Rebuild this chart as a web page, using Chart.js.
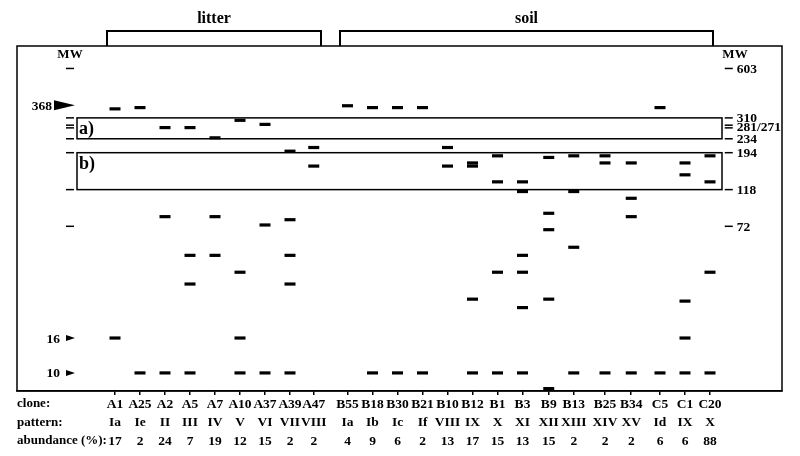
<!DOCTYPE html>
<html>
<head>
<meta charset="utf-8">
<script src="https://cdn.jsdelivr.net/npm/chart.js@4.4.1/dist/chart.umd.min.js"></script>
<style>
  html, body { margin: 0; padding: 0; background: #fff; }
  canvas { display: block; }
</style>
</head>
<body>
<canvas id="gel" width="800" height="456"></canvas>
<script>
// clones along the gel, in lane order
const clones = ['A1', 'A25', 'A2', 'A5', 'A7', 'A10', 'A37', 'A39', 'A47',
  'B55', 'B18', 'B30', 'B21', 'B10', 'B12', 'B1', 'B3', 'B9', 'B13', 'B25', 'B34', 'C5', 'C1', 'C20'];
const patterns = ['Ia', 'Ie', 'II', 'III', 'IV', 'V', 'VI', 'VII', 'VIII',
  'Ia', 'Ib', 'Ic', 'If', 'VIII', 'IX', 'X', 'XI', 'XII', 'XIII', 'XIV', 'XV', 'Id', 'IX', 'X'];
const abundance = [17, 2, 24, 7, 19, 12, 15, 2, 2, 4, 9, 6, 2, 13, 17, 15, 13, 15, 2, 2, 2, 6, 6, 88];
// lane number of each clone (lanes are not evenly spaced on the gel)
const lanes = [0, 1, 2, 3, 4, 5, 6, 7, 7.95, 9.3, 10.3, 11.3, 12.3, 13.3, 14.3, 15.3, 16.3,
  17.35, 18.35, 19.6, 20.65, 21.8, 22.8, 23.8];
// band sizes (MW)
const bands = [
  [350, 16],
  [356, 10],
  [272, 82, 10],
  [272, 48.7, 33.1, 10],
  [237, 82, 48.7],
  [300, 38.8, 16, 10],
  [284, 73.3, 10],
  [198, 78.7, 48.7, 33.1, 10],
  [208, 162],
  [365],
  [356, 10],
  [356, 10],
  [356, 10],
  [208, 162],
  [169, 162, 27, 10],
  [186, 131, 38.8, 10],
  [131, 115, 48.7, 38.8, 24.1, 10],
  [182, 85.8, 68.8, 27, 8.1],
  [186, 115, 54.3, 10],
  [186, 169, 10],
  [169, 105, 82, 10],
  [356, 10],
  [169, 144, 26.3, 16, 10],
  [186, 131, 38.8, 10]
];
// size marker ladder
const ladderMW = [603, 310, 281, 271, 234, 194, 118, 72];
const ladderTicks = [603, 310, 276, 234, 194, 118, 72];
const ladderLabels = ['603', '310', '281/271', '234', '194', '118', '72'];
const arrowMW = [368, 16, 10];
const arrowLabels = ['368', '16', '10'];
const boxA = [310, 234];
const boxB = [194, 118];

const FONT = '"Liberation Serif", "Times New Roman", serif';

const bandPoints = [];
bands.forEach((list, i) => list.forEach(mw => bandPoints.push({ x: lanes[i], y: mw })));
const ladderPoints = [];
ladderMW.forEach(mw => {
  ladderPoints.push({ x: -1.8, y: mw });
  ladderPoints.push({ x: 24.55, y: mw });
});

const deco = {
  id: 'deco',
  afterDraw(chart) {
    const { ctx, chartArea: a, scales: { x, y } } = chart;
    ctx.save();
    ctx.strokeStyle = '#000';
    ctx.fillStyle = '#000';
    ctx.lineWidth = 1.5;
    ctx.strokeRect(a.left, a.top, a.right - a.left, a.bottom - a.top);

    // boxes a) and b)
    const bx0 = x.getPixelForValue(-1.52), bx1 = x.getPixelForValue(24.28);
    [[boxA, 'a)'], [boxB, 'b)']].forEach(([r, lab]) => {
      const t = y.getPixelForValue(r[0]), b = y.getPixelForValue(r[1]);
      ctx.strokeRect(bx0, t, bx1 - bx0, b - t);
      ctx.font = 'bold 18px ' + FONT;
      ctx.textAlign = 'left';
      ctx.textBaseline = 'middle';
      ctx.fillText(lab, bx0 + 2, lab === 'a)' ? (t + b) / 2 + 1 : t + 12);
    });

    // brackets on top
    ctx.lineWidth = 2;
    const brackets = [[-0.32, 8.24, 'litter'], [9.0, 23.92, 'soil']];
    brackets.forEach(([u0, u1, lab]) => {
      const p0 = x.getPixelForValue(u0), p1 = x.getPixelForValue(u1);
      ctx.beginPath();
      ctx.moveTo(p0, a.top);
      ctx.lineTo(p0, 31);
      ctx.lineTo(p1, 31);
      ctx.lineTo(p1, a.top);
      ctx.stroke();
      ctx.font = 'bold 16px ' + FONT;
      ctx.textAlign = 'center';
      ctx.textBaseline = 'middle';
      ctx.fillText(lab, (p0 + p1) / 2, 19);
    });

    // MW headers
    ctx.font = 'bold 13px ' + FONT;
    ctx.textAlign = 'center';
    ctx.fillText('MW', x.getPixelForValue(-1.8), 55);
    ctx.fillText('MW', x.getPixelForValue(24.8), 55);

    // right ladder labels
    ctx.font = 'bold 13.5px ' + FONT;
    ctx.textAlign = 'left';
    const lx = x.getPixelForValue(24.55) + 8;
    ladderTicks.forEach((v, i) => ctx.fillText(ladderLabels[i], lx, y.getPixelForValue(v) + 1));

    // left arrows
    const ax = x.getPixelForValue(-1.6);
    arrowMW.forEach((v, i) => {
      const py = y.getPixelForValue(v);
      const big = i === 0;
      const len = big ? 21 : 9, h = big ? 5 : 3;
      ctx.beginPath();
      ctx.moveTo(ax, py);
      ctx.lineTo(ax - len, py - h);
      ctx.lineTo(ax - len, py + h);
      ctx.closePath();
      ctx.fill();
      ctx.textAlign = 'right';
      ctx.fillText(arrowLabels[i], ax - len - (big ? 2 : 6), py + 1);
    });

    // row headers under the lanes
    ctx.textAlign = 'left';
    ctx.font = 'bold 13px ' + FONT;
    ['clone:', 'pattern:', 'abundance (%):'].forEach((t, i) => {
      ctx.fillText(t, a.left, a.bottom + 13 + i * 18.5);
    });
    ctx.restore();
  }
};

new Chart(document.getElementById('gel'), {
  type: 'scatter',
  data: {
    datasets: [
      {
        label: 'bands',
        data: bandPoints,
        pointStyle: 'line',
        radius: 5.5,
        borderWidth: 3.2,
        borderColor: '#000',
        backgroundColor: '#000'
      },
      {
        label: 'ladder',
        data: ladderPoints,
        pointStyle: 'line',
        radius: 4,
        borderWidth: 1.5,
        borderColor: '#000',
        backgroundColor: '#000'
      }
    ]
  },
  options: {
    responsive: false,
    animation: false,
    events: [],
    devicePixelRatio: 1,
    layout: { padding: { left: 17, top: 46, right: 18, bottom: 0 } },
    plugins: {
      legend: { display: false },
      tooltip: { enabled: false }
    },
    scales: {
      x: {
        type: 'linear',
        min: -3.92,
        max: 26.68,
        afterBuildTicks: s => { s.ticks = lanes.map(v => ({ value: v })); },
        afterFit: s => { s.height = 65; },
        ticks: {
          autoSkip: false,
          maxRotation: 0,
          padding: 0,
          color: '#000',
          font: { family: FONT, size: 13.5, weight: 'bold', lineHeight: 1.37 },
          callback: (v, i) => [clones[i], patterns[i], String(abundance[i])]
        },
        grid: { drawOnChartArea: false, tickLength: 4, color: '#000', lineWidth: 1.5 },
        border: { display: true, color: '#000', width: 1.5 }
      },
      y: {
        type: 'logarithmic',
        display: false,
        bounds: 'data',
        min: 7.84,
        max: 816
      }
    }
  },
  plugins: [deco]
});
</script>
</body>
</html>
